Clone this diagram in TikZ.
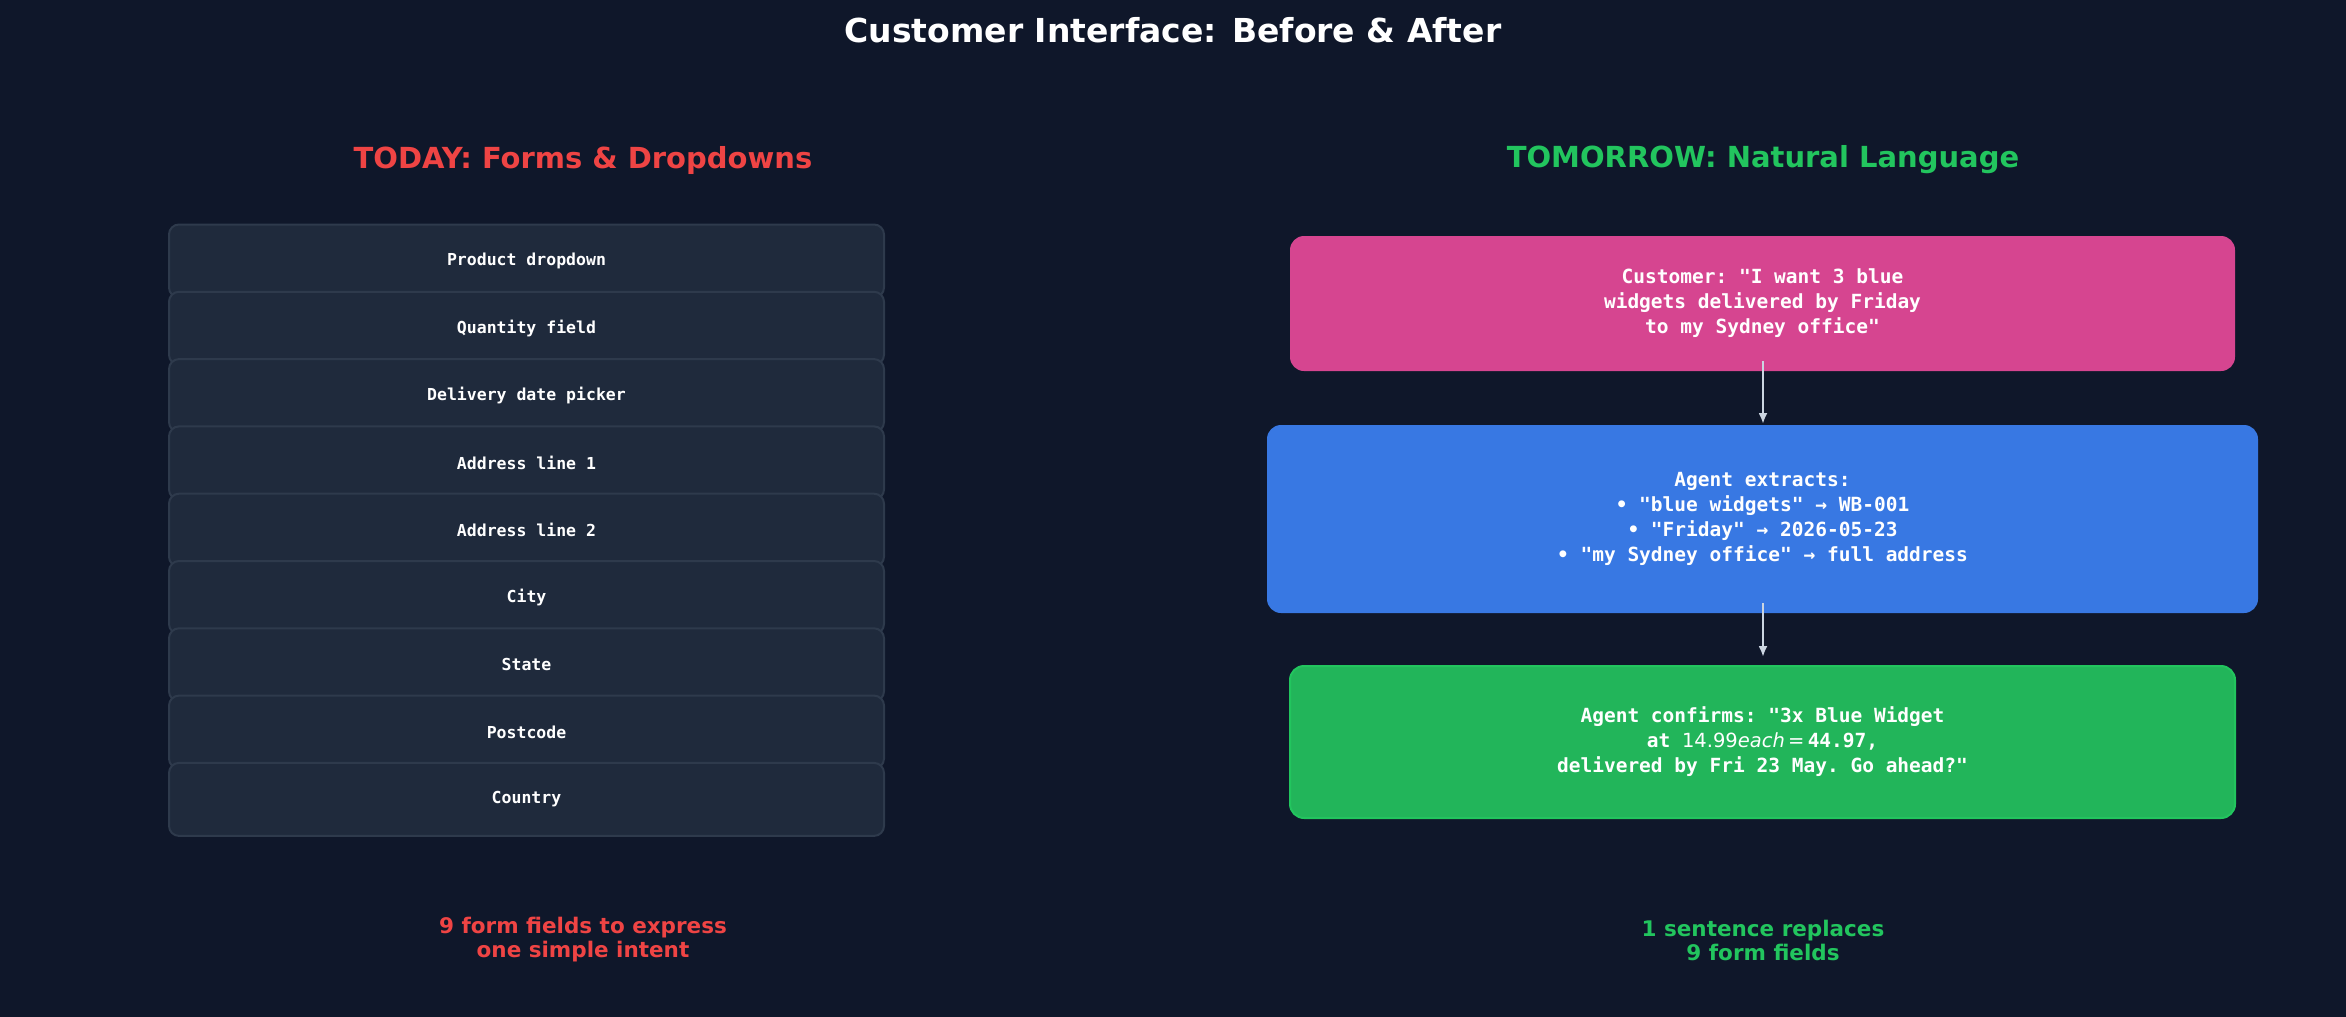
\documentclass[tikz,border=0pt]{standalone}
\usepackage{fontspec}
\setmainfont{DejaVu Sans}
\setmonofont{DejaVu Sans Mono}
\newfontfamily\mathlike{DejaVu Sans}
\definecolor{bg}{HTML}{0F172A}
\definecolor{fld}{HTML}{1F2A3C}
\definecolor{fldb}{HTML}{2E3A4C}
\definecolor{red}{HTML}{EF4444}
\definecolor{grn}{HTML}{22C55E}
\definecolor{pink}{HTML}{D64590}
\definecolor{blu}{HTML}{3878E3}
\definecolor{gbox}{HTML}{22B55A}
\definecolor{arr}{HTML}{CBD5E1}
\begin{document}
\begin{tikzpicture}[x=1pt,y=-1pt,
  field/.style={draw=fldb,line width=2pt,fill=fld,rounded corners=10pt,minimum width=715pt,minimum height=73pt,text=white,font=\ttfamily\bfseries\fontsize{16.5}{20}\selectfont},
  box/.style={rounded corners=14pt,text=white,align=center,font=\ttfamily\bfseries\fontsize{19.5}{25}\selectfont},
  hdr/.style={font=\bfseries\fontsize{29}{34}\selectfont},
  foot/.style={font=\bfseries\fontsize{21.5}{24}\selectfont,align=center},
  ar/.style={arr,line width=2.5pt,-{Latex[length=11pt,width=9pt]}}]
\usetikzlibrary{arrows.meta}
\fill[bg] (0,0) rectangle (2346,1017);
\node[text=white,font=\bfseries\fontsize{33}{38}\selectfont] (title) at (1173,30) {Customer Interface: Before \& After};
\node[hdr,text=red] (lh) at (583,160) {TODAY: Forms \& Dropdowns};
\node[hdr,text=grn] (rh) at (1763,160) {TOMORROW: Natural Language};
\foreach \t [count=\i from 0] in {Product dropdown,Quantity field,Delivery date picker,Address line 1,Address line 2,City,State,Postcode,Country}
  \node[field] (f\i) at (526.5,{261+67.3*\i}) {\t};
\node[box,fill=pink,minimum width=945pt,minimum height=135pt] (cust) at (1762.5,303.5) {Customer: "I want 3 blue\\widgets delivered by Friday\\to my Sydney office"};
\node[box,fill=blu,minimum width=991pt,minimum height=188pt] (agent) at (1762.5,519) {Agent extracts:\\• "blue widgets" → WB-001\\• "Friday" → 2026-05-23\\• "my Sydney office" → full address};
\node[box,fill=gbox,draw=grn,line width=2pt,minimum width=945pt,minimum height=152pt] (conf) at (1762.5,742) {Agent confirms: "3x Blue Widget\\at {\mathlike\mdseries 14.99\itshape each\upshape\,=\,}44.97,\\delivered by Fri 23 May. Go ahead?"};
\draw[ar] (1763,361) -- (1763,424);
\draw[ar] (1763,603) -- (1763,657);
\node[foot,text=red] (lf) at (583,940) {9 form fields to express\\one simple intent};
\node[foot,text=grn] (rf) at (1763,940) {1 sentence replaces\\9 form fields};
\end{tikzpicture}
\end{document}
